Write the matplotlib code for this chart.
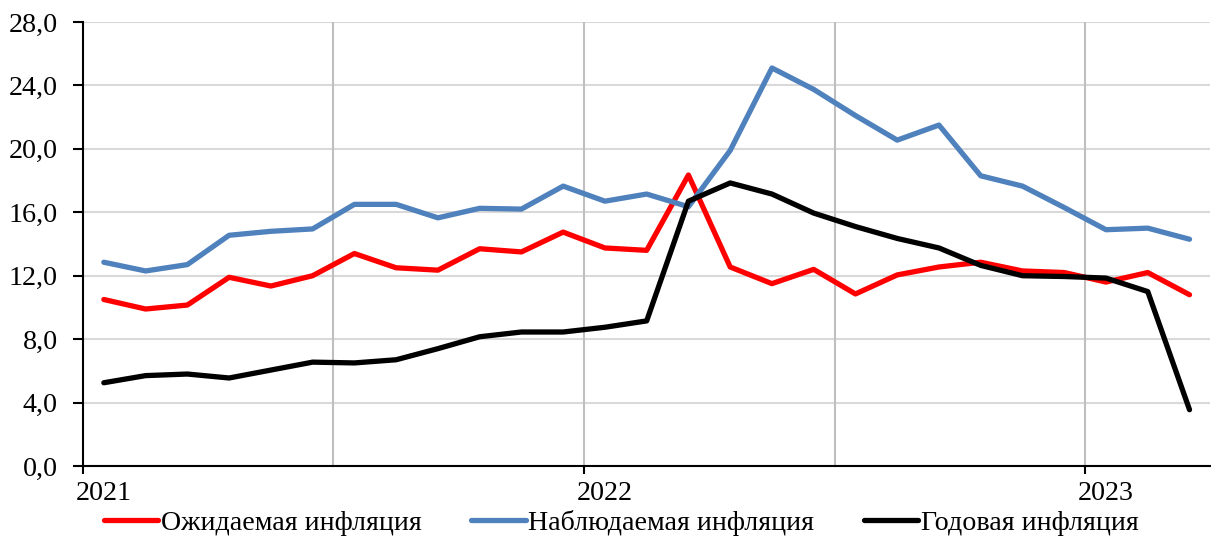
import numpy as np
import matplotlib.pyplot as plt
from matplotlib.ticker import FixedLocator, FuncFormatter

plt.rcParams['font.family'] = ['Liberation Serif', 'DejaVu Serif']

# monthly data, Jan 2021 - Mar 2023
expected = [10.5, 9.9, 10.15, 11.9, 11.35, 12.0, 13.4, 12.5, 12.35, 13.7, 13.5, 14.75,
            13.75, 13.6, 18.35, 12.55, 11.5, 12.4, 10.85, 12.05, 12.55, 12.85, 12.3, 12.2,
            11.6, 12.2, 10.8]
observed = [12.85, 12.3, 12.7, 14.55, 14.8, 14.95, 16.5, 16.5, 15.65, 16.25, 16.2, 17.65,
            16.7, 17.15, 16.35, 19.9, 25.1, 23.75, 22.1, 20.55, 21.5, 18.3, 17.65, 16.3,
            14.9, 15.0, 14.3]
annual = [5.25, 5.7, 5.8, 5.55, 6.05, 6.55, 6.5, 6.7, 7.4, 8.15, 8.45, 8.45,
          8.75, 9.15, 16.7, 17.85, 17.15, 15.95, 15.1, 14.35, 13.75, 12.65, 12.0, 11.95,
          11.85, 11.0, 3.55]
years = ['2021', '2022', '2023']
names = ['Ожидаемая инфляция', 'Наблюдаемая инфляция', 'Годовая инфляция']

fs = 20.2
fig = plt.figure(figsize=(12.11, 5.43), dpi=100)
ax = fig.add_axes([0.0685, 0.1418, 0.931, 0.8177])

x = np.arange(len(expected)) + 0.5
lw = 3.8
style = dict(lw=lw, solid_capstyle='round', solid_joinstyle='round')
ax.plot(x, expected, color='#ff0000', label=names[0], zorder=3, **style)
ax.plot(x, observed, color='#4f81bd', label=names[1], zorder=3, **style)
ax.plot(x, annual, color='#000000', label=names[2], zorder=4, **style)

ax.set_xlim(0, 27)
ax.set_ylim(0, 28)

# y axis
ax.set_yticks(np.arange(0, 28.1, 4))
ax.yaxis.set_major_formatter(FuncFormatter(lambda v, p: f'{v:.1f}'.replace('.', ',')))
ax.tick_params(axis='y', length=7, width=1.5, pad=11, labelsize=fs, direction='out')
ax.yaxis.grid(True, color='#d9d9d9', lw=1.5, zorder=0)

# x axis: ticks at year starts, labels centred on January
ax.set_xticks([0, 12, 24])
ax.set_xticklabels([])
ax.xaxis.set_minor_locator(FixedLocator([0.5, 12.5, 24.5]))
ax.set_xticklabels(years, minor=True)
ax.tick_params(axis='x', which='major', length=6, width=1.5, direction='out')
ax.tick_params(axis='x', which='minor', length=0, pad=11, labelsize=fs)
for xv in [6, 12, 18, 24]:
    ax.axvline(xv, color='#bfbfbf', lw=1.5, zorder=1)

for s in ['top', 'right']:
    ax.spines[s].set_visible(False)
for s in ['left', 'bottom']:
    ax.spines[s].set_linewidth(1.5)
    ax.spines[s].set_zorder(5)
ax.set_axisbelow(True)

fig.legend(loc='center', bbox_to_anchor=(0.513, 0.037), ncol=3, frameon=False,
           fontsize=fs, handlelength=1.95, handletextpad=0.1, columnspacing=1.75,
           borderpad=0, borderaxespad=0)

fig.savefig('out.png', dpi=100)
